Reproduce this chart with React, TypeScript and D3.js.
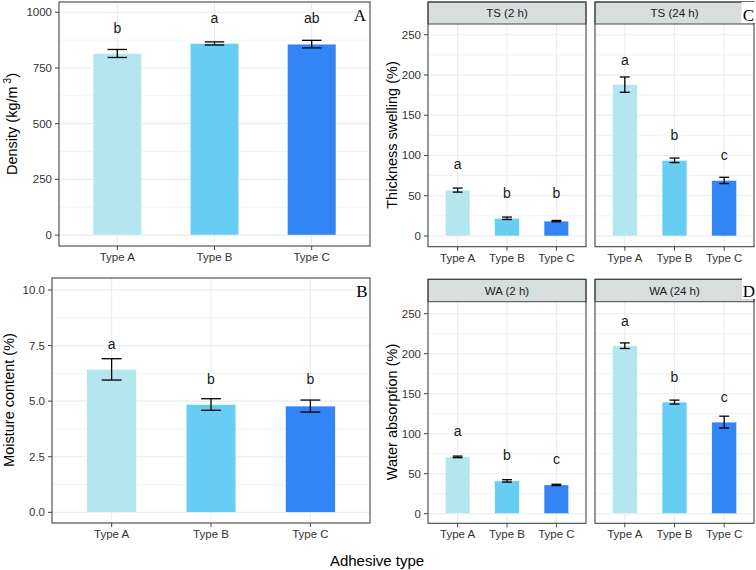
import React, { useEffect } from 'react';
import * as d3 from 'd3';

const TYPES = ['Type A', 'Type B', 'Type C'];
const TYPE_COLORS = ['#b4e6f0', '#68cdf3', '#3384f5'];

const densityMean = [815, 860, 857];
const densityErr = [18, 7, 17];
const densityLetters = ['b', 'a', 'ab'];
const densityLetterAt = [930, 975, 975];
const densityTicks = [0, 250, 500, 750, 1000];

const moistureMean = [6.43, 4.85, 4.78];
const moistureErr = [0.48, 0.26, 0.27];
const moistureLetters = ['a', 'b', 'b'];
const moistureLetterAt = [7.57, 6.0, 6.0];
const moistureTicks = [0, 2.5, 5, 7.5, 10];

const ts2Mean = [57, 22, 18.5];
const ts2Err = [2.5, 1.5, 0.8];
const ts2Letters = ['a', 'b', 'b'];
const ts2LetterAt = [89, 54, 54];

const ts24Mean = [188, 94, 69];
const ts24Err = [9.5, 2.8, 3.9];
const ts24Letters = ['a', 'b', 'c'];
const ts24LetterAt = [218, 126, 101];

const wa2Mean = [71, 41, 36];
const wa2Err = [1, 1.5, 0.8];
const wa2Letters = ['a', 'b', 'c'];
const wa2LetterAt = [103, 73, 68];

const wa24Mean = [210, 139.5, 114.5];
const wa24Err = [3.5, 2.5, 7.4];
const wa24Letters = ['a', 'b', 'c'];
const wa24LetterAt = [241, 171, 146];

const swellTicks = [0, 50, 100, 150, 200, 250];

const FONT = '"Liberation Sans", Arial, sans-serif';
const SERIF = '"Liberation Serif", "Times New Roman", serif';
const GRID = '#e6ecf1';
const BORDER = '#444444';

interface PanelProps {
  left: number;
  right: number;
  top: number;
  bottom: number;
  domain: [number, number];
  ticks: number[];
  fmt: (v: number) => string;
  means: number[];
  errs: number[];
  letters: string[];
  letterAt: number[];
  showYAxis?: boolean;
  strip?: { label: string; top: number };
}

function Panel(p: PanelProps) {
  const x = d3.scalePoint<string>().domain(TYPES).range([p.left, p.right]).padding(0.6);
  const y = d3.scaleLinear().domain(p.domain).range([p.bottom, p.top]);
  const step = x.step();
  const barW = step * 0.5;
  const capW = step * 0.2;
  const minor = d3.pairs(p.ticks).map(([a, b]) => (a + b) / 2);
  const panelTop = p.strip ? p.strip.top : p.top;

  return (
    <g>
      <rect x={p.left} y={p.top} width={p.right - p.left} height={p.bottom - p.top} fill="#fff" />
      {minor.map(v => (
        <line key={'mi' + v} x1={p.left} x2={p.right} y1={y(v)} y2={y(v)} stroke={GRID} strokeWidth={0.6} />
      ))}
      {p.ticks.map(v => (
        <line key={'ma' + v} x1={p.left} x2={p.right} y1={y(v)} y2={y(v)} stroke={GRID} strokeWidth={1.1} />
      ))}
      {TYPES.map(t => (
        <line key={'vx' + t} x1={x(t)} x2={x(t)} y1={p.top} y2={p.bottom} stroke={GRID} strokeWidth={1.1} />
      ))}
      {TYPES.map((t, i) => (
        <rect
          key={'bar' + t}
          x={x(t)! - barW / 2}
          y={y(p.means[i])}
          width={barW}
          height={y(0) - y(p.means[i])}
          fill={TYPE_COLORS[i]}
          stroke="#ffffff"
          strokeWidth={0.5}
        />
      ))}
      {TYPES.map((t, i) => {
        const cx = x(t)!;
        const hi = y(p.means[i] + p.errs[i]);
        const lo = y(p.means[i] - p.errs[i]);
        return (
          <g key={'err' + t} stroke="#000" strokeWidth={1.3}>
            <line x1={cx} x2={cx} y1={hi} y2={lo} />
            <line x1={cx - capW / 2} x2={cx + capW / 2} y1={hi} y2={hi} />
            <line x1={cx - capW / 2} x2={cx + capW / 2} y1={lo} y2={lo} />
          </g>
        );
      })}
      {TYPES.map((t, i) => (
        <text
          key={'let' + t}
          x={x(t)}
          y={y(p.letterAt[i])}
          textAnchor="middle"
          dominantBaseline="central"
          fontFamily={FONT}
          fontSize={14}
          fill="#1a1a1a"
        >
          {p.letters[i]}
        </text>
      ))}
      {p.strip && (
        <g>
          <rect
            x={p.left}
            y={p.strip.top}
            width={p.right - p.left}
            height={p.top - p.strip.top}
            fill="#d8dede"
            stroke={BORDER}
            strokeWidth={1}
          />
          <text
            x={(p.left + p.right) / 2}
            y={(p.strip.top + p.top) / 2}
            textAnchor="middle"
            dominantBaseline="central"
            fontFamily={FONT}
            fontSize={11.5}
            fill="#1a1a1a"
          >
            {p.strip.label}
          </text>
        </g>
      )}
      <rect
        x={p.left}
        y={panelTop}
        width={p.right - p.left}
        height={p.bottom - panelTop}
        fill="none"
        stroke={BORDER}
        strokeWidth={1.1}
      />
      {/* x axis */}
      {TYPES.map(t => (
        <g key={'xt' + t}>
          <line x1={x(t)} x2={x(t)} y1={p.bottom} y2={p.bottom + 4} stroke={BORDER} strokeWidth={1} />
          <text
            x={x(t)}
            y={p.bottom + 15}
            textAnchor="middle"
            fontFamily={FONT}
            fontSize={11.5}
            fill="#333"
          >
            {t}
          </text>
        </g>
      ))}
      {/* y axis */}
      {p.showYAxis &&
        p.ticks.map(v => (
          <g key={'yt' + v}>
            <line x1={p.left - 4} x2={p.left} y1={y(v)} y2={y(v)} stroke={BORDER} strokeWidth={1} />
            <text
              x={p.left - 7}
              y={y(v)}
              textAnchor="end"
              dominantBaseline="central"
              fontFamily={FONT}
              fontSize={11.5}
              fill="#333"
            >
              {p.fmt(v)}
            </text>
          </g>
        ))}
    </g>
  );
}

function YTitle({ x, cy, children }: { x: number; cy: number; children: React.ReactNode }) {
  return (
    <text
      transform={`translate(${x},${cy}) rotate(-90)`}
      textAnchor="middle"
      dominantBaseline="central"
      fontFamily={FONT}
      fontSize={14.5}
      fill="#000"
    >
      {children}
    </text>
  );
}

function Tag({ label, x, y, box }: { label: string; x: number; y: number; box?: boolean }) {
  return (
    <g>
      {box && <rect x={x - 7} y={y - 19} width={16} height={21} fill="#fff" />}
      <text x={x} y={y} textAnchor="middle" fontFamily={SERIF} fontSize={17} fill="#000">
        {label}
      </text>
    </g>
  );
}

export default function App() {
  useEffect(() => {
    document.body.style.margin = '0';
  }, []);
  const intFmt = d3.format('d');
  const oneFmt = d3.format('.1f');

  return (
    <div style={{ position: 'fixed', left: 0, top: 0 }}>
      <svg width={756} height={570} style={{ display: 'block', background: '#fff' }}>
        <Panel
          left={59} right={370} top={2} bottom={246}
          domain={[-49, 1046]} ticks={densityTicks} fmt={intFmt}
          means={densityMean} errs={densityErr} letters={densityLetters} letterAt={densityLetterAt}
          showYAxis
        />
        <Panel
          left={52} right={370} top={278} bottom={523}
          domain={[-0.48, 10.54]} ticks={moistureTicks} fmt={oneFmt}
          means={moistureMean} errs={moistureErr} letters={moistureLetters} letterAt={moistureLetterAt}
          showYAxis
        />
        <Panel
          left={428} right={586} top={24} bottom={246.7}
          domain={[-13.3, 263.3]} ticks={swellTicks} fmt={intFmt}
          means={ts2Mean} errs={ts2Err} letters={ts2Letters} letterAt={ts2LetterAt}
          showYAxis strip={{ label: 'TS (2 h)', top: 2 }}
        />
        <Panel
          left={595} right={754} top={24} bottom={246.7}
          domain={[-13.3, 263.3]} ticks={swellTicks} fmt={intFmt}
          means={ts24Mean} errs={ts24Err} letters={ts24Letters} letterAt={ts24LetterAt}
          strip={{ label: 'TS (24 h)', top: 2 }}
        />
        <Panel
          left={428} right={586} top={301.7} bottom={523.3}
          domain={[-12, 265]} ticks={swellTicks} fmt={intFmt}
          means={wa2Mean} errs={wa2Err} letters={wa2Letters} letterAt={wa2LetterAt}
          showYAxis strip={{ label: 'WA (2 h)', top: 279.3 }}
        />
        <Panel
          left={595} right={754} top={301.7} bottom={523.3}
          domain={[-12, 265]} ticks={swellTicks} fmt={intFmt}
          means={wa24Mean} errs={wa24Err} letters={wa24Letters} letterAt={wa24LetterAt}
          strip={{ label: 'WA (24 h)', top: 279.3 }}
        />

        <YTitle x={12} cy={124}>
          Density (kg/m
          <tspan dx={3} dy={-5} fontSize={10}>3</tspan>
          <tspan dy={5}>)</tspan>
        </YTitle>
        <YTitle x={9} cy={400}>Moisture content (%)</YTitle>
        <YTitle x={392} cy={135}>Thickness swelling (%)</YTitle>
        <YTitle x={392} cy={412}>Water absorption (%)</YTitle>

        <text x={377} y={560} textAnchor="middle" dominantBaseline="central" fontFamily={FONT} fontSize={15} fill="#000">
          Adhesive type
        </text>

        <Tag label="A" x={360} y={21} />
        <Tag label="B" x={362} y={297} />
        <Tag label="C" x={748.5} y={21} box />
        <Tag label="D" x={749} y={297} box />
      </svg>
    </div>
  );
}
